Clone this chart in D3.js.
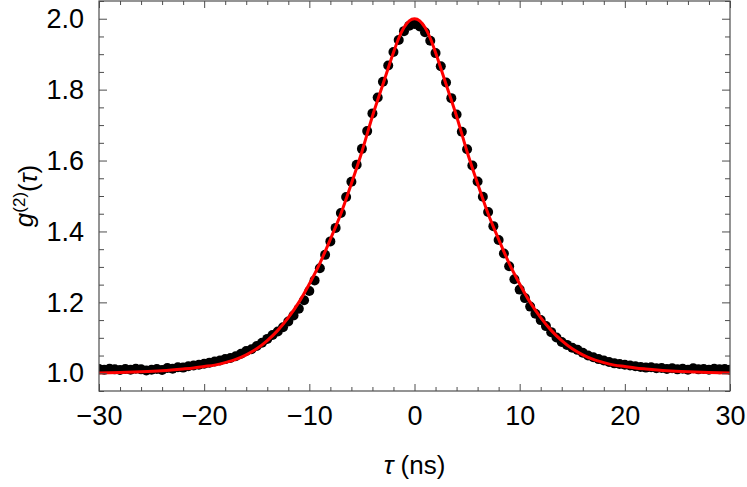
<!DOCTYPE html>
<html>
<head>
<meta charset="utf-8">
<script src="https://cdn.jsdelivr.net/npm/d3@7"></script>
<style>
  body { margin: 0; background: #fff; }
  svg { display: block; font-family: "Liberation Sans", Arial, sans-serif; }
</style>
</head>
<body>
<script>
// measured points, tau in ns
const tau = [
  -30, -29.5, -29, -28.5, -28, -27.5, -27, -26.5, -26, -25.5, -25, -24.5, -24, -23.5, -23, -22.5,
  -22, -21.5, -21, -20.5, -20, -19.5, -19, -18.5, -18, -17.5, -17, -16.5, -16, -15.5, -15, -14.5,
  -14, -13.5, -13, -12.5, -12, -11.5, -11, -10.5, -10, -9.5, -9, -8.5, -8, -7.5, -7, -6.5,
  -6, -5.5, -5, -4.5, -4, -3.5, -3, -2.5, -2, -1.5, -1, -0.5, 0, 0.5,
  1, 1.5, 2, 2.5, 3, 3.5, 4, 4.5, 5, 5.5, 6, 6.5, 7, 7.5, 8, 8.5,
  9, 9.5, 10, 10.5, 11, 11.5, 12, 12.5, 13, 13.5, 14, 14.5, 15, 15.5, 16, 16.5,
  17, 17.5, 18, 18.5, 19, 19.5, 20, 20.5, 21, 21.5, 22, 22.5, 23, 23.5, 24, 24.5,
  25, 25.5, 26, 26.5, 27, 27.5, 28, 28.5, 29, 29.5, 30
]
const g2 = [
  1.012, 1.010, 1.013, 1.011, 1.009, 1.012, 1.010, 1.013, 1.011, 1.008, 1.010, 1.012, 1.009, 1.015, 1.013, 1.017,
  1.016, 1.020, 1.022, 1.024, 1.027, 1.030, 1.033, 1.036, 1.040, 1.043, 1.048, 1.055, 1.063, 1.068, 1.077, 1.086,
  1.097, 1.108, 1.118, 1.130, 1.146, 1.163, 1.182, 1.206, 1.232, 1.262, 1.296, 1.334, 1.372, 1.410, 1.452, 1.497,
  1.540, 1.588, 1.633, 1.683, 1.733, 1.778, 1.822, 1.868, 1.906, 1.940, 1.965, 1.980, 1.985, 1.978,
  1.962, 1.938, 1.903, 1.866, 1.820, 1.776, 1.730, 1.681, 1.632, 1.586, 1.541, 1.498, 1.455, 1.415, 1.376, 1.338,
  1.302, 1.265, 1.236, 1.212, 1.188, 1.168, 1.150, 1.133, 1.116, 1.101, 1.088, 1.080, 1.072, 1.066, 1.058, 1.050,
  1.045, 1.040, 1.036, 1.032, 1.028, 1.026, 1.024, 1.022, 1.020, 1.018, 1.016, 1.017, 1.014, 1.015, 1.012, 1.014,
  1.011, 1.013, 1.010, 1.014, 1.011, 1.012, 1.010, 1.013, 1.011, 1.012, 1.010
]

// fitted curve
const fitTau = [
  -30, -28, -26, -24, -22, -21, -20, -19, -18, -17, -16, -15, -14, -13, -12, -11, -10,
  -9, -8, -7, -6, -5, -4, -3, -2, -1.5, -1, -0.5, 0,
  0.5, 1, 1.5, 2, 3, 4, 5, 6, 7, 8, 9, 10, 11, 12, 13, 14,
  15, 16, 17, 18, 19, 20, 21, 22, 24, 26, 28, 30
]
const fitG2 = [
  1.001, 1.002, 1.004, 1.007, 1.012, 1.015, 1.019, 1.023, 1.030, 1.039, 1.052, 1.069, 1.092, 1.121, 1.157, 1.200, 1.252,
  1.310, 1.378, 1.450, 1.535, 1.625, 1.725, 1.815, 1.905, 1.945, 1.975, 1.994, 2.000,
  1.994, 1.975, 1.945, 1.905, 1.815, 1.725, 1.625, 1.535, 1.450, 1.378, 1.310, 1.252, 1.200, 1.157, 1.121, 1.092,
  1.069, 1.052, 1.039, 1.030, 1.023, 1.019, 1.015, 1.012, 1.007, 1.004, 1.002, 1.001
]

const xMajor = [-30, -20, -10, 0, 10, 20, 30]
const yMajor = [1.0, 1.2, 1.4, 1.6, 1.8, 2.0]

const w = 747
const h = 487
const padL = 99, padR = 730, padT = 1, padB = 391
const frameColor = '#4d4d4d'

const xScale = d3.scaleLinear().domain([-30, 30]).range([padL, padR])
const yScale = d3.scaleLinear().domain([0.95, 2.05]).range([padB, padT])

const svg = d3.select('body')
  .append('svg')
  .attr('width', w)
  .attr('height', h)

svg.append('clipPath')
  .attr('id', 'plot-clip')
  .append('rect')
  .attr('x', padL)
  .attr('y', padT)
  .attr('width', padR - padL)
  .attr('height', padB - padT)

const plot = svg.append('g').attr('clip-path', 'url(#plot-clip)')

plot.selectAll('circle')
  .data(tau.map((t, i) => [t, g2[i]]))
  .enter()
  .append('circle')
  .attr('cx', d => xScale(d[0]))
  .attr('cy', d => yScale(d[1]))
  .attr('r', 5)
  .style('fill', '#000')

const line = d3.line()
  .x(d => xScale(d[0]))
  .y(d => yScale(d[1]))
  .curve(d3.curveMonotoneX)

plot.append('path')
  .datum(fitTau.map((t, i) => [t, fitG2[i]]))
  .attr('d', line)
  .style('fill', 'none')
  .style('stroke', '#ff0000')
  .style('stroke-width', 3)

// axes: ticks inside on all four sides
const xMinor = xScale.ticks(30).filter(v => !xMajor.includes(v))
const yMinor = yScale.ticks(22).filter(v => !yMajor.some(m => Math.abs(m - v) < 1e-6))

const axisStyle = (sel) => {
  sel.select('.domain').remove()
  sel.selectAll('line').style('stroke', frameColor).style('stroke-width', 1)
}

const fmtX = d3.format('d')
const fmtY = d3.format('.1f')

svg.append('g')
  .attr('transform', 'translate(0,' + padB + ')')
  .call(d3.axisBottom(xScale).tickValues(xMajor).tickSize(-7).tickPadding(15).tickFormat(fmtX))
  .call(axisStyle)
  .call(g => g.selectAll('text').style('font-size', '27px').style('fill', '#000').attr('dy', '0.72em'))

svg.append('g')
  .attr('transform', 'translate(0,' + padB + ')')
  .call(d3.axisBottom(xScale).tickValues(xMinor).tickSize(-4).tickFormat(''))
  .call(axisStyle)

svg.append('g')
  .attr('transform', 'translate(0,' + padT + ')')
  .call(d3.axisTop(xScale).tickValues(xMajor).tickSize(-7).tickFormat(''))
  .call(axisStyle)

svg.append('g')
  .attr('transform', 'translate(0,' + padT + ')')
  .call(d3.axisTop(xScale).tickValues(xMinor).tickSize(-4).tickFormat(''))
  .call(axisStyle)

svg.append('g')
  .attr('transform', 'translate(' + padL + ',0)')
  .call(d3.axisLeft(yScale).tickValues(yMajor).tickSize(-8).tickPadding(15).tickFormat(fmtY))
  .call(axisStyle)
  .call(g => g.selectAll('text').style('font-size', '27px').style('fill', '#000'))

svg.append('g')
  .attr('transform', 'translate(' + padL + ',0)')
  .call(d3.axisLeft(yScale).tickValues(yMinor).tickSize(-5).tickFormat(''))
  .call(axisStyle)

svg.append('g')
  .attr('transform', 'translate(' + padR + ',0)')
  .call(d3.axisRight(yScale).tickValues(yMajor).tickSize(-8).tickFormat(''))
  .call(axisStyle)

svg.append('g')
  .attr('transform', 'translate(' + padR + ',0)')
  .call(d3.axisRight(yScale).tickValues(yMinor).tickSize(-5).tickFormat(''))
  .call(axisStyle)

// frame
svg.append('rect')
  .attr('x', padL)
  .attr('y', padT)
  .attr('width', padR - padL)
  .attr('height', padB - padT)
  .style('fill', 'none')
  .style('stroke', frameColor)
  .style('stroke-width', 1.2)

// axis labels
const xLabel = svg.append('text')
  .attr('x', (padL + padR) / 2)
  .attr('y', 474)
  .attr('text-anchor', 'middle')
  .style('font-size', '26px')
xLabel.append('tspan').style('font-style', 'italic').text('τ')
xLabel.append('tspan').text(' (ns)')

const yLabel = svg.append('text')
  .attr('transform', 'translate(33,' + ((padT + padB) / 2) + ') rotate(-90)')
  .attr('text-anchor', 'middle')
  .style('font-size', '26px')
yLabel.append('tspan').style('font-style', 'italic').text('g')
yLabel.append('tspan').attr('dy', '-0.45em').style('font-size', '17px').text('(2)')
yLabel.append('tspan').attr('dy', '0.45em').text('(')
yLabel.append('tspan').style('font-style', 'italic').text('τ')
yLabel.append('tspan').text(')')
</script>
</body>
</html>
